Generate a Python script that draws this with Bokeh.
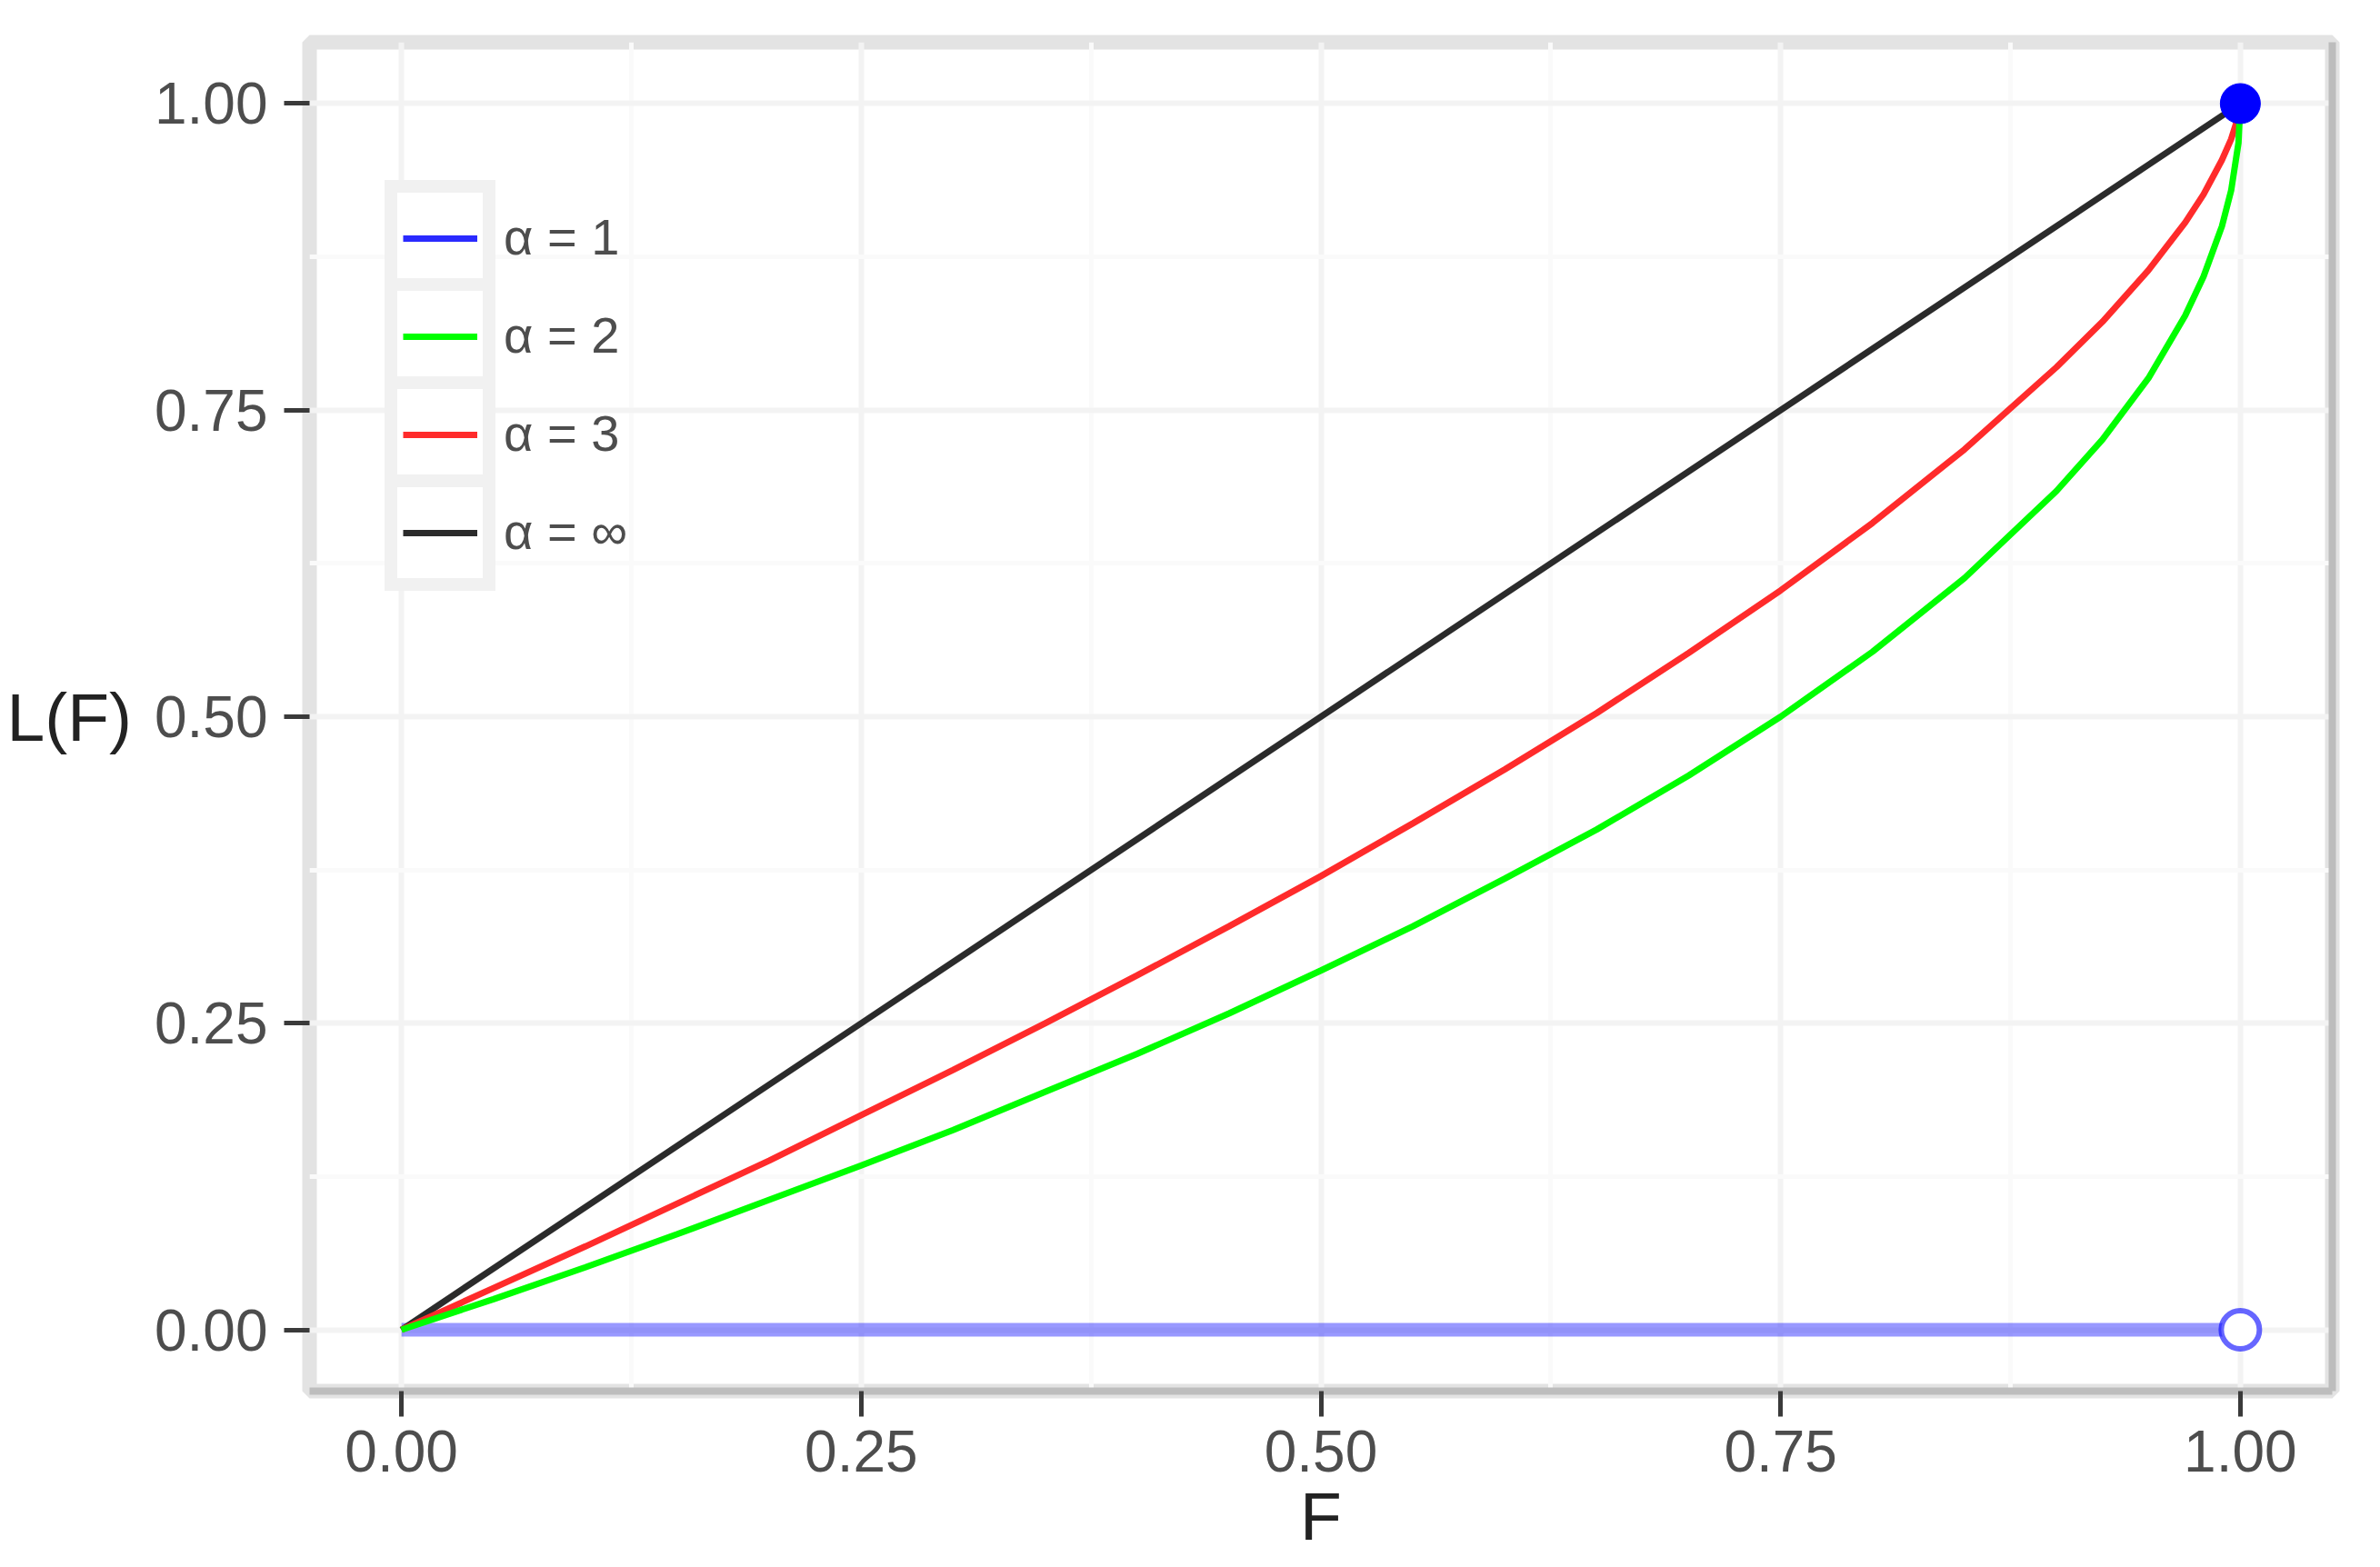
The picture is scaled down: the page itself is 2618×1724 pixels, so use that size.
from bokeh.plotting import figure
from bokeh.models import Legend, LegendItem, FixedTicker, LinearAxis, Range1d, NumeralTickFormatter
from bokeh.embed import file_html
from bokeh.resources import INLINE

# ---- data ----
F_a2 = [0.0, 0.05, 0.10, 0.15, 0.20, 0.25, 0.30, 0.35, 0.40, 0.45, 0.50, 0.55, 0.60,
        0.65, 0.70, 0.75, 0.80, 0.85, 0.90, 0.925, 0.95, 0.97, 0.98, 0.99, 0.995, 0.999, 1.0]
L_a2 = [0.0, 0.025, 0.051, 0.078, 0.106, 0.134, 0.163, 0.194, 0.225, 0.258, 0.293, 0.329, 0.368,
        0.408, 0.452, 0.500, 0.553, 0.613, 0.684, 0.726, 0.776, 0.827, 0.859, 0.900, 0.929, 0.968, 1.0]

F_a3 = [0.0, 0.05, 0.10, 0.15, 0.20, 0.25, 0.30, 0.35, 0.40, 0.45, 0.50, 0.55, 0.60,
        0.65, 0.70, 0.75, 0.80, 0.85, 0.90, 0.925, 0.95, 0.97, 0.98, 0.99, 0.995, 0.999, 1.0]
L_a3 = [0.0, 0.034, 0.068, 0.103, 0.138, 0.175, 0.212, 0.250, 0.289, 0.329, 0.370, 0.413, 0.457,
        0.503, 0.552, 0.603, 0.658, 0.718, 0.785, 0.822, 0.864, 0.903, 0.926, 0.954, 0.971, 0.990, 1.0]

F_inf = [0.0, 1.0]
L_inf = [0.0, 1.0]

F_a1 = [0.0, 1.0]
L_a1 = [0.0, 0.0]
F_a1_open = [1.0]
L_a1_open = [0.0]
F_a1_point = [1.0]
L_a1_point = [1.0]

major_ticks = [0.0, 0.25, 0.50, 0.75, 1.0]
minor_ticks = [0.125, 0.375, 0.625, 0.875]
legend_labels = ["α = 1", "α = 2", "α = 3", "α = ∞"]
x_title = "F"
y_title = "L(F)"

FONT = "Liberation Sans"

p = figure(width=2600, height=1716, output_backend="svg", toolbar_location=None,
           x_range=Range1d(-0.05, 1.05), y_range=Range1d(-0.05, 1.05),
           min_border_left=340, min_border_right=35, min_border_top=46, min_border_bottom=186)

p.background_fill_color = "white"
p.border_fill_color = "white"
p.outline_line_color = "#e3e3e3"
p.outline_line_width = 16

for ax in (p.xaxis[0], p.yaxis[0]):
    ax.ticker = FixedTicker(ticks=major_ticks, minor_ticks=minor_ticks)
    ax.formatter = NumeralTickFormatter(format="0.00")
    ax.major_label_text_font = FONT
    ax.major_label_text_font_size = "64px"
    ax.major_label_text_color = "#4d4d4d"
    ax.major_tick_line_color = "#3a3a3a"
    ax.major_tick_line_width = 5
    ax.major_tick_out = 28
    ax.major_tick_in = 0
    ax.minor_tick_line_color = None
    ax.axis_label_text_font = FONT
    ax.axis_label_text_font_size = "75px"
    ax.axis_label_text_font_style = "normal"
    ax.axis_label_text_color = "#222222"

p.xaxis.axis_label = x_title
p.yaxis.axis_label = y_title
p.yaxis.axis_label_orientation = "horizontal"
p.xaxis.major_label_standoff = 15
p.yaxis.major_label_standoff = 18
p.xaxis.axis_label_standoff = 4
p.yaxis.axis_label_standoff = 22
p.xaxis.axis_line_color = "#bdbdbd"
p.xaxis.axis_line_width = 8
p.yaxis.axis_line_color = None

right_ax = LinearAxis(ticker=FixedTicker(ticks=[]), major_label_text_font_size="0px",
                      major_tick_line_color=None, minor_tick_line_color=None,
                      axis_line_color="#bdbdbd", axis_line_width=8)
p.add_layout(right_ax, "right")

for g in (p.xgrid[0], p.ygrid[0]):
    g.grid_line_color = "#f3f3f3"
    g.grid_line_width = 6
    g.minor_grid_line_color = "#fafafa"
    g.minor_grid_line_width = 5

# ---- marks ----
r1 = p.line(F_a1, L_a1, line_color="blue", line_alpha=0.4, line_width=15)
r_inf = p.line(F_inf, L_inf, line_color="#2b2b2b", line_width=7)
r3 = p.line(F_a3, L_a3, line_color="#ff2b2b", line_width=7)
r2 = p.line(F_a2, L_a2, line_color="#00ff00", line_width=7)
p.scatter(F_a1_open, L_a1_open, size=42, marker="circle", fill_color="white",
          line_color="blue", line_alpha=0.6, line_width=6)
p.scatter(F_a1_point, L_a1_point, size=44, marker="circle", fill_color="blue", line_color="blue")

# legend key proxy for alpha = 1 (a one-point line draws nothing in the plot)
r1_key = p.line(F_a1_point, L_a1_point, line_color="#2a2aff", line_width=7)

key_renderers = [r1_key, r2, r3, r_inf]

# one boxed key per item (ggplot style key boxes)
key_y = [1204, 1096, 988, 880]
for r, ky in zip(key_renderers, key_y):
    lg = Legend(
        items=[LegendItem(label=" ", renderers=[r])],
        location=(83, ky), orientation="vertical",
        glyph_width=82, glyph_height=88, spacing=0, padding=6, margin=0,
        label_standoff=0, label_width=0, label_height=0, label_text_font_size="1px",
        background_fill_color="white", background_fill_alpha=1.0,
        border_line_color="#e3e3e3", border_line_width=14,
    )
    p.add_layout(lg, "center")

legend_labels_box = Legend(
    items=[LegendItem(label=lab, renderers=[r]) for lab, r in zip(legend_labels, key_renderers)],
    location=(214, 899), orientation="vertical",
    glyph_width=0, glyph_height=93, spacing=15, padding=12,
    label_standoff=0, label_text_font=FONT, label_text_font_size="56px",
    label_text_color="#4d4d4d",
    background_fill_alpha=0.0, border_line_color=None,
)
p.add_layout(legend_labels_box, "center")

open("out.html", "w").write(file_html(p, INLINE))
